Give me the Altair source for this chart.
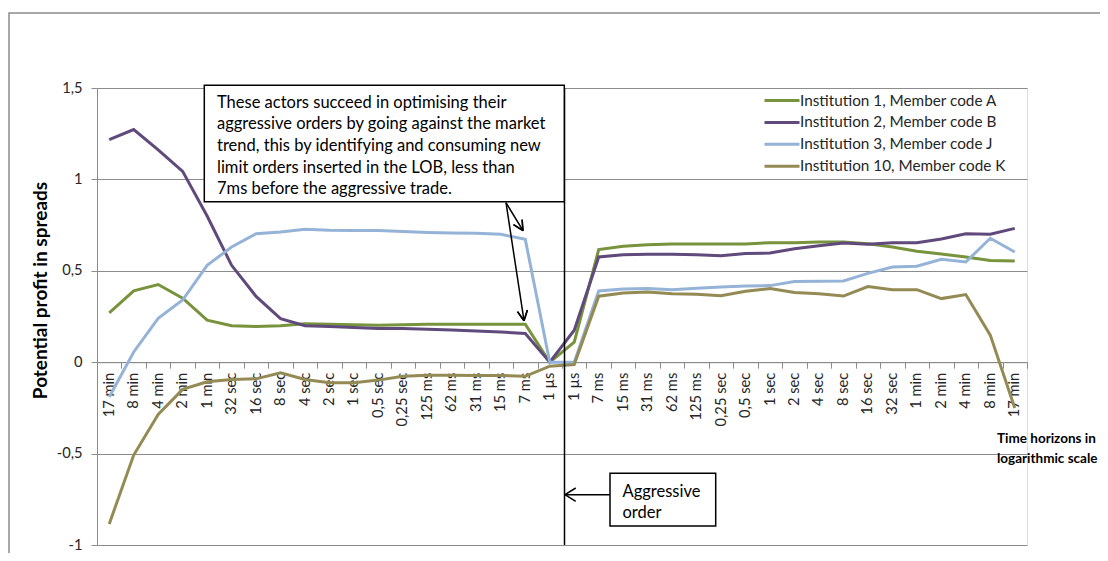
import altair as alt
import pandas as pd

# --- categories (time horizons before / after the aggressive order) ---
left_labels = ["17 min", "8 min", "4 min", "2 min", "1 min", "32 sec", "16 sec", "8 sec",
               "4 sec", "2 sec", "1 sec", "0,5 sec", "0,25 sec", "125 ms", "62 ms",
               "31 ms", "15 ms", "7 ms", "1 µs"]
right_labels = ["1 µs", "7 ms", "15 ms", "31 ms", "62 ms", "125 ms", "0,25 sec", "0,5 sec",
                "1 sec", "2 sec", "4 sec", "8 sec", "16 sec", "32 sec", "1 min", "2 min",
                "4 min", "8 min", "17 min"]

series_names = ["Institution 1, Member code A", "Institution 2, Member code B",
                "Institution 3, Member code J", "Institution 10, Member code K"]
series_colors = ["#77933C", "#604A7B", "#95B3D7", "#948A54"]

inst1_A = [0.27, 0.39, 0.425, 0.35, 0.23, 0.20, 0.195, 0.20, 0.21, 0.207, 0.205, 0.202,
           0.205, 0.208, 0.207, 0.207, 0.207, 0.208, 0.0,
           0.11, 0.616, 0.634, 0.643, 0.647, 0.647, 0.647, 0.647, 0.654, 0.654, 0.657,
           0.657, 0.648, 0.63, 0.607, 0.592, 0.576, 0.557, 0.554]
inst2_B = [1.217, 1.273, 1.162, 1.044, 0.80, 0.53, 0.36, 0.238, 0.20, 0.195, 0.19, 0.185,
           0.185, 0.18, 0.176, 0.171, 0.165, 0.157, 0.0,
           0.175, 0.576, 0.588, 0.59, 0.59, 0.588, 0.583, 0.594, 0.597, 0.621, 0.637,
           0.652, 0.645, 0.654, 0.654, 0.674, 0.703, 0.70, 0.732]
inst3_J = [-0.19, 0.056, 0.24, 0.34, 0.53, 0.63, 0.703, 0.712, 0.727, 0.722, 0.72, 0.72,
           0.715, 0.71, 0.707, 0.705, 0.70, 0.672, 0.0,
           0.0, 0.39, 0.40, 0.403, 0.397, 0.404, 0.411, 0.417, 0.419, 0.441, 0.443,
           0.444, 0.486, 0.521, 0.525, 0.563, 0.548, 0.678, 0.603]
inst10_K = [-0.885, -0.508, -0.286, -0.149, -0.107, -0.095, -0.091, -0.058, -0.095, -0.113,
            -0.113, -0.098, -0.077, -0.071, -0.071, -0.073, -0.073, -0.077, -0.022,
            -0.013, 0.361, 0.379, 0.384, 0.375, 0.372, 0.364, 0.388, 0.403, 0.381, 0.375,
            0.362, 0.414, 0.397, 0.397, 0.348, 0.37, 0.148, -0.25]

annotation_text = ("These actors succeed in optimising their\n"
                   "aggressive orders by going against the market\n"
                   "trend, this by identifying and consuming new\n"
                   "limit orders inserted in the LOB, less than\n"
                   "7ms before the aggressive trade.")
aggressive_text = "Aggressive\norder"
x_title_text = "Time horizons in\nlogarithmic scale"
y_title_text = "Potential profit in spreads"

# --- build table ---
keys = ["L " + l for l in left_labels] + ["R " + r for r in right_labels]
rows = []
for name, vals in zip(series_names, [inst1_A, inst2_B, inst3_J, inst10_K]):
    for i, (k, v) in enumerate(zip(keys, vals)):
        rows.append({"key": k, "idx": i, "series": name, "value": v})
df = pd.DataFrame(rows)

W, H = 930, 457
FONT = "Lato"
TICK_FS = 14.7

x_enc = alt.X("key:N", sort=keys, bandPosition=0.5,
              scale=alt.Scale(type="band", domain=keys, paddingInner=0, paddingOuter=0),
              axis=alt.Axis(title=None, labelExpr="slice(datum.label, 2)", labelAngle=270,
                            tickBand="extent", offset=-182.8, labelOverlap=False,
                            labelFont=FONT, labelFontSize=TICK_FS, labelColor="#262626",
                            labelPadding=4, tickSize=6, tickColor="#8c8c8c",
                            domainColor="#8c8c8c", grid=False))
y_enc = alt.Y("value:Q",
              scale=alt.Scale(domain=[-1, 1.5], nice=False, zero=False),
              axis=alt.Axis(values=[-1, -0.5, 0, 0.5, 1, 1.5],
                            labelExpr="(datum.value < 0 ? '-' : '') + replace(format(abs(datum.value), '~g'), '.', ',')",
                            labelFont=FONT, labelFontSize=TICK_FS, labelColor="#262626",
                            labelPadding=9, tickSize=6, tickColor="#8c8c8c",
                            domainColor="#8c8c8c", gridColor="#8c8c8c", grid=True,
                            title=y_title_text, titleFont=FONT, titleFontSize=19,
                            titleFontWeight="bold", titleColor="#000000",
                            titleAngle=270, titleX=-51, titleY=202,
                            titleBaseline="alphabetic", titleAlign="center"))

lines = alt.Chart(df).mark_line(strokeWidth=3).encode(
    x=x_enc,
    y=y_enc,
    order="idx:Q",
    color=alt.Color("series:N", sort=series_names,
                    scale=alt.Scale(domain=series_names, range=series_colors),
                    legend=alt.Legend(title=None, orient="none", legendX=666, legendY=4,
                                      symbolType="M-1,0H4", symbolSize=196,
                                      symbolStrokeWidth=3, labelFont=FONT,
                                      labelFontSize=15.3, labelColor="#262626",
                                      rowPadding=4.9, labelOffset=20, padding=0,
                                      labelLimit=400)),
)

one = pd.DataFrame({"a": [0]})

border = alt.Chart(one).mark_rect(fillOpacity=0, stroke="#8c8c8c", strokeWidth=1.5).encode(
    x=alt.value(-88), x2=alt.value(1100), y=alt.value(-75), y2=alt.value(700))

vline = alt.Chart(one).mark_rule(color="black", strokeWidth=1.5).encode(
    x=alt.value(467.5), y=alt.value(0), y2=alt.value(H))

box1 = alt.Chart(one).mark_rect(fill="white", stroke="black", strokeWidth=1.5).encode(
    x=alt.value(107.3), x2=alt.value(467.3), y=alt.value(-2.7), y2=alt.value(113.7))
text1 = alt.Chart(one).mark_text(align="left", baseline="middle", lineBreak="\n",
                                 lineHeight=21.7, fontSize=16.5, font=FONT,
                                 color="black").encode(
    x=alt.value(120), y=alt.value(14.7), text=alt.value(annotation_text))

box2 = alt.Chart(one).mark_rect(fill="white", stroke="black", strokeWidth=1.5).encode(
    x=alt.value(513), x2=alt.value(618.7), y=alt.value(385.3), y2=alt.value(438))
text2 = alt.Chart(one).mark_text(align="left", baseline="middle", lineBreak="\n",
                                 lineHeight=21, fontSize=16.5, font=FONT,
                                 color="black").encode(
    x=alt.value(525.5), y=alt.value(403.7), text=alt.value(aggressive_text))

arrow_segments = pd.DataFrame({
    "x1": [409, 426, 416.5, 426, 425.1, 409, 427, 420.5, 427, 430.4, 513, 468, 468],
    "y1": [114.7, 142.7, 136.7, 142.7, 131.6, 114.7, 232.7, 223.6, 232.7, 222.1, 406.7, 406.7, 406.7],
    "x2": [426, 416.5, 426, 425.1, 426, 427, 420.5, 427, 430.4, 427, 468, 478.7, 478.7],
    "y2": [142.7, 136.7, 142.7, 131.6, 142.7, 232.7, 223.6, 232.7, 222.1, 232.7, 406.7, 400, 413.4],
})
arrows = alt.Chart(arrow_segments).mark_rule(color="black", strokeWidth=1.5).encode(
    x=alt.X("x1:Q", scale=None), y=alt.Y("y1:Q", scale=None),
    x2="x2:Q", y2="y2:Q")

x_title = alt.Chart(one).mark_text(align="left", baseline="middle", lineBreak="\n",
                                   lineHeight=20, fontSize=13.5, fontWeight="bold",
                                   font=FONT, color="black").encode(
    x=alt.value(900), y=alt.value(351.3), text=alt.value(x_title_text))

chart = alt.layer(border, lines, vline, box1, text1, arrows, box2, text2, x_title).properties(
    width=W, height=H,
    autosize=alt.AutoSizeParams(type="none"),
    padding={"left": 89, "top": 80, "right": 73, "bottom": 8},
).configure_view(stroke=None).configure(background="white")

chart.save("out.html", embed_options={"renderer": "svg", "actions": False})
